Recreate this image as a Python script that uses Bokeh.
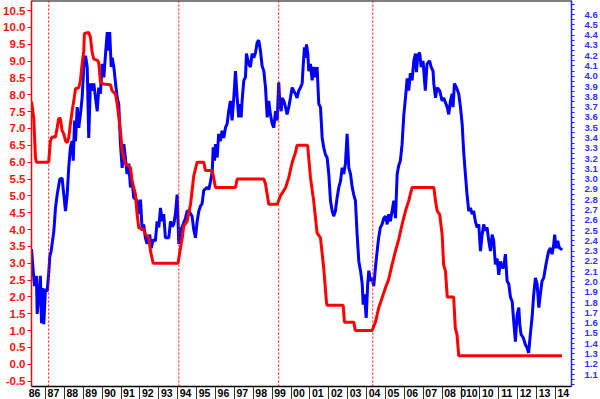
from bokeh.plotting import figure
from bokeh.models import Range1d, LinearAxis, FixedTicker, NumeralTickFormatter, Span
from bokeh.embed import file_html
from bokeh.resources import INLINE

# ---------------- data ----------------
years = list(range(1986, 2015))
year_labels = ["86", "87", "88", "89", "90", "91", "92", "93", "94", "95", "96", "97",
               "98", "99", "00", "01", "02", "03", "04", "05", "06", "07", "08", "010",
               "10", "11", "12", "13", "14"]

# Red series (left axis)
fed_t = [1986.26, 1986.38, 1986.47, 1986.52, 1987.17, 1987.26, 1987.35, 1987.53, 1987.62, 1987.70,
         1987.79, 1987.88, 1987.97, 1988.06, 1988.15, 1988.23, 1988.32, 1988.41, 1988.50, 1988.59,
         1988.76, 1988.85, 1988.94, 1989.03, 1989.06, 1989.29, 1989.38, 1989.47, 1989.56, 1989.74,
         1989.82, 1989.91, 1990.09, 1990.44, 1990.53, 1990.71, 1990.80, 1990.97, 1991.06, 1991.23,
         1991.50, 1991.59, 1991.76, 1991.85, 1991.94, 1992.20, 1992.29, 1992.47, 1992.56, 1992.70,
         1994.02, 1994.15, 1994.24, 1994.32, 1994.50, 1994.68, 1994.85, 1995.03, 1995.38, 1995.47,
         1995.83, 1996.00, 1997.06, 1997.15, 1998.56, 1998.65, 1998.82, 1999.27, 1999.44, 1999.71,
         1999.88, 2000.06, 2000.23, 2000.32, 2000.88, 2001.03, 2001.20, 2001.38, 2001.56, 2001.73,
         2001.88, 2001.91, 2002.76, 2002.83, 2003.32, 2003.41, 2004.29, 2004.47, 2004.64, 2004.82,
         2005.00, 2005.17, 2005.35, 2005.53, 2005.70, 2005.88, 2006.06, 2006.23, 2006.41, 2007.56,
         2007.65, 2007.74, 2007.87, 2008.00, 2008.08, 2008.18, 2008.27, 2008.61, 2008.70, 2008.79,
         2008.88, 2014.35]
fed_v = [7.8, 7.3, 6.13, 6.0, 6.0, 6.63, 6.75, 6.75, 7.03, 7.3,
         7.3, 6.93, 6.84, 6.63, 6.58, 6.73, 7.14, 7.52, 7.82, 8.18,
         8.21, 8.42, 8.92, 9.31, 9.82, 9.85, 9.71, 9.26, 9.06, 9.03,
         8.96, 8.37, 8.32, 8.30, 8.12, 8.02, 7.72, 6.93, 6.33, 5.95,
         5.84, 5.44, 5.05, 4.46, 4.05, 4.0, 3.86, 3.75, 3.36, 3.0,
         3.0, 3.46, 3.75, 4.10, 4.25, 4.75, 5.59, 6.0, 6.0, 5.75,
         5.75, 5.25, 5.25, 5.5, 5.5, 5.35, 4.75, 4.75, 5.0, 5.24,
         5.54, 5.99, 6.28, 6.5, 6.5, 5.54, 4.85, 3.90, 3.75, 2.86,
         1.82, 1.75, 1.75, 1.25, 1.25, 1.0, 1.0, 1.25, 1.67, 1.97,
         2.27, 2.52, 2.96, 3.36, 3.71, 4.15, 4.55, 4.85, 5.25, 5.25,
         4.85, 4.55, 4.45, 3.86, 2.96, 2.76, 2.0, 2.0, 1.07, 0.87,
         0.25, 0.25]

# Blue series (right axis)
blue_t = [1986.26, 1986.35, 1986.42, 1986.52, 1986.56, 1986.64, 1986.73, 1986.79, 1986.86, 1986.91,
          1987.00, 1987.09, 1987.17, 1987.23, 1987.30, 1987.35, 1987.44, 1987.48, 1987.53, 1987.62,
          1987.76, 1987.88, 1987.97, 1988.06, 1988.15, 1988.23, 1988.32, 1988.41, 1988.47, 1988.54,
          1988.59, 1988.68, 1988.76, 1988.85, 1988.94, 1989.03, 1989.12, 1989.21, 1989.29, 1989.38,
          1989.47, 1989.56, 1989.65, 1989.74, 1989.82, 1989.91, 1990.00, 1990.09, 1990.18, 1990.27,
          1990.35, 1990.40, 1990.48, 1990.53, 1990.62, 1990.71, 1990.80, 1990.88, 1990.97, 1991.06,
          1991.15, 1991.23, 1991.32, 1991.41, 1991.50, 1991.59, 1991.67, 1991.85, 1991.94, 1992.03,
          1992.12, 1992.20, 1992.29, 1992.38, 1992.52, 1992.60, 1992.70, 1992.82, 1992.91, 1993.00,
          1993.09, 1993.18, 1993.26, 1993.35, 1993.53, 1993.62, 1993.71, 1993.79, 1993.88, 1993.97,
          1994.06, 1994.15, 1994.29, 1994.41, 1994.50, 1994.59, 1994.76, 1994.85, 1994.94, 1995.03,
          1995.12, 1995.21, 1995.29, 1995.38, 1995.56, 1995.65, 1995.74, 1995.83, 1995.88, 1995.95,
          1996.00, 1996.09, 1996.17, 1996.26, 1996.35, 1996.44, 1996.53, 1996.62, 1996.70, 1996.79,
          1996.88, 1996.97, 1997.06, 1997.15, 1997.23, 1997.32, 1997.36, 1997.41, 1997.50, 1997.59,
          1997.64, 1997.76, 1997.85, 1997.94, 1998.03, 1998.12, 1998.21, 1998.29, 1998.38, 1998.47,
          1998.56, 1998.65, 1998.74, 1998.82, 1998.91, 1999.00, 1999.09, 1999.18, 1999.27, 1999.35,
          1999.40, 1999.48, 1999.53, 1999.62, 1999.71, 1999.79, 1999.88, 1999.97, 2000.06, 2000.14,
          2000.23, 2000.32, 2000.41, 2000.50, 2000.59, 2000.64, 2000.71, 2000.76, 2000.82, 2000.89,
          2000.94, 2001.03, 2001.12, 2001.20, 2001.29, 2001.38, 2001.47, 2001.56, 2001.65, 2001.73,
          2001.82, 2001.91, 2002.00, 2002.09, 2002.18, 2002.26, 2002.35, 2002.44, 2002.53, 2002.62,
          2002.71, 2002.79, 2002.88, 2002.97, 2003.06, 2003.15, 2003.24, 2003.32, 2003.41, 2003.50,
          2003.59, 2003.68, 2003.77, 2003.82, 2003.89, 2003.98, 2004.06, 2004.12, 2004.21, 2004.29,
          2004.38, 2004.47, 2004.56, 2004.64, 2004.73, 2004.82, 2004.91, 2005.00, 2005.09, 2005.17,
          2005.26, 2005.35, 2005.44, 2005.53, 2005.62, 2005.70, 2005.79, 2005.88, 2005.97, 2006.06,
          2006.15, 2006.23, 2006.32, 2006.41, 2006.50, 2006.59, 2006.64, 2006.71, 2006.81, 2006.89,
          2006.99, 2007.11, 2007.20, 2007.34, 2007.42, 2007.52, 2007.56, 2007.65, 2007.74, 2007.87,
          2008.00, 2008.08, 2008.27, 2008.35, 2008.44, 2008.53, 2008.58, 2008.65, 2008.76, 2008.88,
          2008.97, 2009.06, 2009.14, 2009.23, 2009.32, 2009.41, 2009.50, 2009.59, 2009.67, 2009.76,
          2009.85, 2009.94, 2010.03, 2010.12, 2010.20, 2010.29, 2010.38, 2010.47, 2010.56, 2010.65,
          2010.73, 2010.82, 2010.91, 2011.00, 2011.09, 2011.18, 2011.26, 2011.35, 2011.44, 2011.53,
          2011.62, 2011.71, 2011.79, 2011.88, 2011.97, 2012.06, 2012.11, 2012.18, 2012.29, 2012.41,
          2012.50, 2012.58, 2012.67, 2012.76, 2012.85, 2012.94, 2013.03, 2013.12, 2013.20, 2013.29,
          2013.38, 2013.47, 2013.56, 2013.64, 2013.73, 2013.82, 2013.91, 2013.96, 2014.03, 2014.12,
          2014.21, 2014.30, 2014.35]
blue_v = [2.32, 2.11, 1.96, 2.06, 1.69, 1.85, 2.06, 1.60, 1.94, 1.59,
          1.93, 1.91, 2.08, 2.25, 2.30, 2.37, 2.49, 2.59, 2.72, 2.85,
          3.00, 3.01, 2.85, 2.69, 2.85, 3.11, 3.31, 3.37, 3.18, 3.57,
          3.37, 3.70, 3.50, 3.63, 3.79, 4.09, 4.20, 4.09, 3.40, 3.93,
          3.86, 3.93, 3.79, 3.66, 3.89, 3.83, 4.12, 3.99, 4.22, 4.43,
          4.25, 4.43, 4.09, 4.18, 4.09, 3.93, 3.79, 3.73, 3.34, 3.11,
          3.34, 3.21, 3.05, 3.15, 2.92, 2.98, 2.82, 2.79, 2.66, 2.80,
          2.50, 2.56, 2.43, 2.37, 2.46, 2.33, 2.41, 2.40, 2.59, 2.53,
          2.72, 2.59, 2.66, 2.43, 2.43, 2.59, 2.54, 2.56, 2.66, 2.85,
          2.37, 2.50, 2.56, 2.62, 2.69, 2.69, 2.64, 2.51, 2.43, 2.59,
          2.69, 2.74, 2.76, 2.89, 2.92, 2.90, 2.98, 3.08, 3.31, 3.18,
          3.34, 3.21, 3.44, 3.37, 3.47, 3.40, 3.50, 3.54, 3.66, 3.76,
          3.57, 3.79, 4.05, 3.79, 3.60, 3.73, 3.60, 3.76, 3.96, 3.99,
          4.22, 4.12, 4.09, 4.22, 4.18, 4.23, 4.33, 4.35, 4.25, 4.10,
          4.05, 3.89, 3.60, 3.76, 3.63, 3.54, 3.50, 3.66, 3.57, 3.94,
          3.76, 3.66, 3.79, 3.76, 3.70, 3.63, 3.70, 3.79, 3.89, 3.86,
          3.83, 3.79, 3.86, 3.89, 3.93, 4.09, 4.28, 4.18, 4.31, 4.22,
          4.05, 4.12, 3.96, 4.09, 3.99, 4.09, 3.73, 3.70, 3.40, 3.31,
          3.24, 3.21, 3.05, 2.79, 2.69, 2.64, 2.69, 2.82, 2.92, 2.98,
          3.11, 3.05, 3.15, 3.44, 3.11, 3.05, 2.92, 2.85, 2.79, 2.46,
          2.20, 2.11, 1.98, 1.78, 1.88, 1.65, 1.98, 2.11, 2.01, 2.04,
          1.96, 2.14, 2.30, 2.43, 2.53, 2.56, 2.62, 2.64, 2.56, 2.66,
          2.59, 2.69, 2.79, 2.62, 3.05, 3.13, 3.18, 3.34, 3.62, 3.79,
          3.98, 3.86, 4.03, 3.96, 4.15, 4.22, 4.04, 4.20, 4.23, 4.09,
          4.15, 3.86, 4.12, 4.15, 4.09, 4.05, 3.93, 3.79, 3.89, 3.86,
          3.76, 3.79, 3.70, 3.63, 3.76, 3.83, 3.70, 3.93, 3.89, 3.83,
          3.70, 3.54, 3.27, 3.05, 2.85, 2.69, 2.72, 2.66, 2.69, 2.59,
          2.53, 2.56, 2.30, 2.46, 2.56, 2.50, 2.53, 2.40, 2.30, 2.46,
          2.40, 2.17, 2.23, 2.07, 2.20, 2.14, 2.14, 2.27, 2.01, 1.98,
          1.85, 1.81, 1.62, 1.42, 1.68, 1.75, 1.59, 1.49, 1.46, 1.39,
          1.36, 1.31, 1.49, 1.65, 1.88, 2.04, 1.98, 1.75, 1.88, 2.01,
          2.04, 2.14, 2.23, 2.30, 2.33, 2.27, 2.37, 2.46, 2.33, 2.40,
          2.33, 2.32, 2.31]

# Dates of the dashed vertical markers
tightening_starts = [1987.17, 1994.06, 1999.35, 2004.33]

left_ticks = [round(-0.5 + 0.5 * i, 1) for i in range(23)]
right_all = [round(1.0 + 0.05 * i, 2) for i in range(75)]
right_labelled = {round(1.1 + 0.1 * i, 1) for i in range(36)}

FONT = "Liberation Sans"
LABEL_POS = 0.42   # where each year's label sits inside its year

# ---------------- figure ----------------
p = figure(width=600, height=399, output_backend="svg", toolbar_location=None,
           x_range=Range1d(1986.26, 2014.85), y_range=Range1d(-0.66, 10.8),
           min_border_left=0, min_border_top=0, min_border_bottom=0, min_border_right=29)
p.extra_y_ranges = {"right": Range1d(0.984, 4.7365)}
p.grid.visible = False
p.outline_line_color = None
p.background_fill_color = "white"
p.border_fill_color = "white"

# x axis: labels inside each year, separators (minor ticks) at year starts
label_ticks = [y + LABEL_POS for y in years]
xa = p.xaxis[0]
xa.ticker = FixedTicker(ticks=label_ticks, minor_ticks=years[1:])
xa.major_label_overrides = {t: lab for t, lab in zip(label_ticks, year_labels)}
xa.major_tick_out = 0
xa.major_tick_in = 0
xa.minor_tick_out = 14
xa.minor_tick_in = 0
xa.minor_tick_line_color = "#333333"
xa.axis_line_color = "black"
xa.axis_line_width = 1.5
xa.major_label_standoff = -12
xa.major_label_text_font = FONT
xa.major_label_text_font_style = "bold"
xa.major_label_text_font_size = "10.5px"
xa.major_label_text_color = "black"

# left axis (red)
ya = p.yaxis[0]
ya.ticker = FixedTicker(ticks=left_ticks, minor_ticks=[])
ya.formatter = NumeralTickFormatter(format="0.0")
ya.axis_line_color = "#ff0000"
ya.axis_line_width = 1.5
ya.major_tick_line_color = "#ff0000"
ya.major_tick_out = 4
ya.major_tick_in = 0
ya.major_label_standoff = 2
ya.major_label_text_font = FONT
ya.major_label_text_font_style = "bold"
ya.major_label_text_font_size = "11.5px"
ya.major_label_text_color = "#ff1010"

# right axis (blue): tick every 0.05, label every 0.1
ra = LinearAxis(y_range_name="right",
                ticker=FixedTicker(ticks=right_all, minor_ticks=[]))
ra.major_label_overrides = {t: (f"{t:.1f}" if round(t, 1) in right_labelled and abs(t * 10 - round(t * 10)) < 1e-6 else "")
                            for t in right_all}
ra.axis_line_color = "#2020ff"
ra.axis_line_width = 1.5
ra.major_tick_line_color = "#2020ff"
ra.major_tick_out = 3
ra.major_tick_in = 0
ra.major_label_standoff = 10
ra.major_label_text_font = FONT
ra.major_label_text_font_style = "bold"
ra.major_label_text_font_size = "9.5px"
ra.major_label_text_color = "#3030ff"
p.add_layout(ra, "right")

# top border
p.add_layout(Span(location=10.8, dimension="width", line_color="black", line_width=2))

# dashed vertical markers
for t in tightening_starts:
    p.add_layout(Span(location=t, dimension="height", line_color="#ff0000",
                      line_width=1, line_dash="2 2"))

# series
p.line(blue_t, blue_v, y_range_name="right", line_color="#0000ff", line_width=3)
p.line(fed_t, fed_v, line_color="#ff0000", line_width=3)

open("out.html", "w").write(file_html(p, INLINE))
